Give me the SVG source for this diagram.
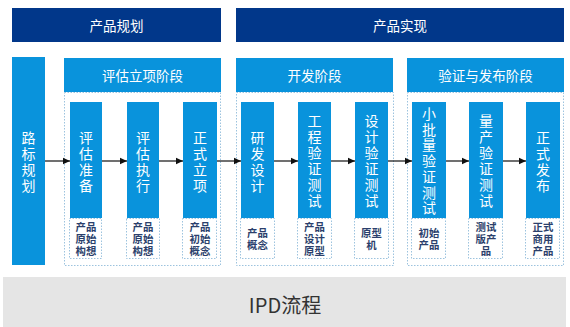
<svg xmlns="http://www.w3.org/2000/svg" width="570" height="327" viewBox="0 0 570 327">
<defs>
<style>
.banner{fill:#01378a}
.blue{fill:#0993dc}
.dot{fill:none;stroke:#9cc3de;stroke-width:1;stroke-dasharray:1.5,1.5}
.lbl{fill:#fff;stroke:#9cc3de;stroke-width:1;stroke-dasharray:1.5,1.5}
.t{font-family:"Noto Sans CJK SC","Noto Sans",sans-serif;fill:#fff;font-size:13.5px;text-anchor:middle;dominant-baseline:central}
.v{font-family:"Liberation Sans","Noto Sans CJK SC",sans-serif;fill:#fff;font-size:14px;text-anchor:middle;dominant-baseline:central}
.s{font-family:"Liberation Sans","Noto Sans CJK SC",sans-serif;fill:#2b3f6c;font-size:10.4px;font-weight:bold;text-anchor:middle;dominant-baseline:central}
.c{stroke:#111;stroke-width:1.2;fill:none;marker-end:url(#ah)}
</style>
<marker id="ah" markerWidth="8" markerHeight="8" refX="7" refY="4" orient="auto" markerUnits="userSpaceOnUse">
<path d="M0,0.8 L7,4 L0,7.2 Z" fill="#111"/>
</marker>
</defs>
<rect width="570" height="327" fill="#fff"/>

<g id="banner-plan"><rect class="banner" x="12" y="8" width="209" height="34"/><text class="t" x="116.5" y="25">产品规划</text></g>
<g id="banner-real"><rect class="banner" x="236" y="8" width="328" height="34"/><text class="t" x="400" y="25">产品实现</text></g>

<g id="roadmap"><rect class="blue" x="12" y="57" width="33" height="208"/>
<text class="v" x="28.5" y="138">路</text><text class="v" x="28.5" y="154">标</text><text class="v" x="28.5" y="170">规</text><text class="v" x="28.5" y="186">划</text></g>

<g id="stage1"><rect class="blue" x="64" y="58" width="157" height="34"/><text class="t" x="142.5" y="75">评估立项阶段</text><rect class="dot" x="64.5" y="92.5" width="156" height="173"/></g>
<g id="stage2"><rect class="blue" x="236" y="58" width="157" height="34"/><text class="t" x="314.5" y="75">开发阶段</text><rect class="dot" x="236.5" y="92.5" width="157" height="173"/></g>
<g id="stage3"><rect class="blue" x="407" y="58" width="157" height="34"/><text class="t" x="485.5" y="75">验证与发布阶段</text><rect class="dot" x="407.5" y="92.5" width="156" height="173"/></g>

<g id="n1"><rect class="blue" x="70" y="102" width="32" height="116"/>
<text class="v" x="86" y="138">评</text><text class="v" x="86" y="154">估</text><text class="v" x="86" y="170">准</text><text class="v" x="86" y="186">备</text>
<rect class="lbl" x="69.5" y="218.5" width="32" height="40"/>
<text class="s" x="86" y="227">产品</text><text class="s" x="86" y="239">原始</text><text class="s" x="86" y="251">构想</text></g>

<g id="n2"><rect class="blue" x="127" y="102" width="32" height="116"/>
<text class="v" x="143" y="138">评</text><text class="v" x="143" y="154">估</text><text class="v" x="143" y="170">执</text><text class="v" x="143" y="186">行</text>
<rect class="lbl" x="126.5" y="218.5" width="33" height="40"/>
<text class="s" x="143" y="227">产品</text><text class="s" x="143" y="239">原始</text><text class="s" x="143" y="251">构想</text></g>

<g id="n3"><rect class="blue" x="183" y="102" width="34" height="116"/>
<text class="v" x="200" y="138">正</text><text class="v" x="200" y="154">式</text><text class="v" x="200" y="170">立</text><text class="v" x="200" y="186">项</text>
<rect class="lbl" x="182.5" y="218.5" width="34" height="40"/>
<text class="s" x="200" y="227">产品</text><text class="s" x="200" y="239">初始</text><text class="s" x="200" y="251">概念</text></g>

<g id="n4"><rect class="blue" x="241" y="102" width="33" height="116"/>
<text class="v" x="257.5" y="138">研</text><text class="v" x="257.5" y="154">发</text><text class="v" x="257.5" y="170">设</text><text class="v" x="257.5" y="186">计</text>
<rect class="lbl" x="240.5" y="218.5" width="34" height="40"/>
<text class="s" x="257.5" y="233">产品</text><text class="s" x="257.5" y="245">概念</text></g>

<g id="n5"><rect class="blue" x="298" y="102" width="33" height="116"/>
<text class="v" x="314.5" y="121">工</text><text class="v" x="314.5" y="137">程</text><text class="v" x="314.5" y="153">验</text><text class="v" x="314.5" y="169">证</text><text class="v" x="314.5" y="185">测</text><text class="v" x="314.5" y="201">试</text>
<rect class="lbl" x="297.5" y="218.5" width="34" height="40"/>
<text class="s" x="314.5" y="227">产品</text><text class="s" x="314.5" y="239">设计</text><text class="s" x="314.5" y="251">原型</text></g>

<g id="n6"><rect class="blue" x="355" y="102" width="33" height="116"/>
<text class="v" x="371.5" y="121">设</text><text class="v" x="371.5" y="137">计</text><text class="v" x="371.5" y="153">验</text><text class="v" x="371.5" y="169">证</text><text class="v" x="371.5" y="185">测</text><text class="v" x="371.5" y="201">试</text>
<rect class="lbl" x="354.5" y="218.5" width="34" height="40"/>
<text class="s" x="371.5" y="233">原型</text><text class="s" x="371.5" y="245">机</text></g>

<g id="n7"><rect class="blue" x="412" y="102" width="34" height="116"/>
<text class="v" x="429" y="114">小</text><text class="v" x="429" y="129.7">批</text><text class="v" x="429" y="145.4">量</text><text class="v" x="429" y="161.1">验</text><text class="v" x="429" y="176.8">证</text><text class="v" x="429" y="192.5">测</text><text class="v" x="429" y="208.2">试</text>
<rect class="lbl" x="411.5" y="218.5" width="34" height="40"/>
<text class="s" x="429" y="233">初始</text><text class="s" x="429" y="245">产品</text></g>

<g id="n8"><rect class="blue" x="469" y="102" width="34" height="116"/>
<text class="v" x="486" y="121">量</text><text class="v" x="486" y="137">产</text><text class="v" x="486" y="153">验</text><text class="v" x="486" y="169">证</text><text class="v" x="486" y="185">测</text><text class="v" x="486" y="201">试</text>
<rect class="lbl" x="468.5" y="218.5" width="34" height="40"/>
<text class="s" x="486" y="227">测试</text><text class="s" x="486" y="239">版产</text><text class="s" x="486" y="251">品</text></g>

<g id="n9"><rect class="blue" x="526" y="102" width="34" height="116"/>
<text class="v" x="543" y="138">正</text><text class="v" x="543" y="154">式</text><text class="v" x="543" y="170">发</text><text class="v" x="543" y="186">布</text>
<rect class="lbl" x="525.5" y="218.5" width="34" height="40"/>
<text class="s" x="543" y="227">正式</text><text class="s" x="543" y="239">商用</text><text class="s" x="543" y="251">产品</text></g>

<g id="connectors">
<line class="c" x1="45" y1="161" x2="70" y2="161"/>
<line class="c" x1="102" y1="161" x2="127" y2="161"/>
<line class="c" x1="159" y1="161" x2="183" y2="161"/>
<line class="c" x1="217" y1="161" x2="241" y2="161"/>
<line class="c" x1="274" y1="161" x2="298" y2="161"/>
<line class="c" x1="331" y1="161" x2="355" y2="161"/>
<line class="c" x1="388" y1="161" x2="412" y2="161"/>
<line class="c" x1="446" y1="161" x2="469" y2="161"/>
<line class="c" x1="503" y1="161" x2="526" y2="161"/>
</g>

<g id="footer"><rect x="3" y="277" width="563" height="50" fill="#e5e5e5"/>
<text x="285" y="304" font-family="'Noto Sans CJK SC','Noto Sans',sans-serif" font-size="20" fill="#333" text-anchor="middle" dominant-baseline="central">IPD流程</text></g>
</svg>
